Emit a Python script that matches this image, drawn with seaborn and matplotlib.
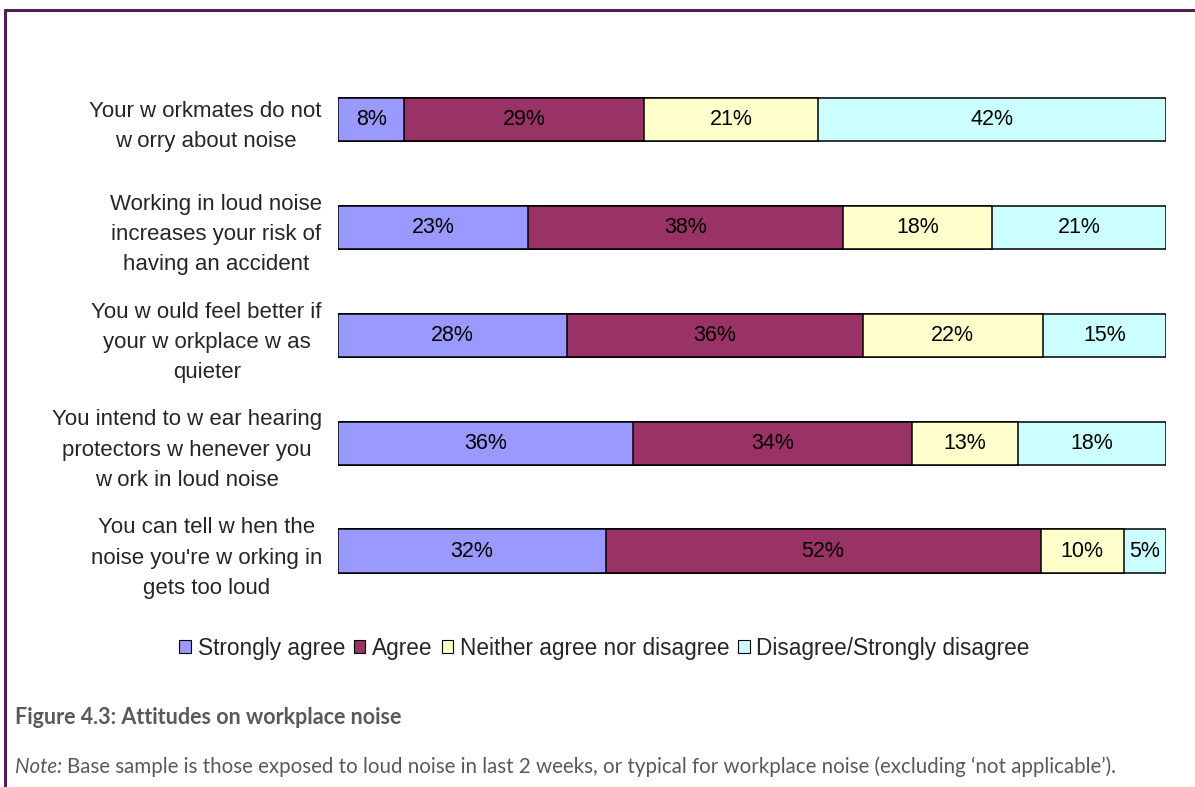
import numpy as np
import pandas as pd
import seaborn as sns
import matplotlib.pyplot as plt
from matplotlib.lines import Line2D
from matplotlib.patches import Patch

statements = [
    "Your w orkmates do not\nw orry about noise",
    "Working in loud noise\nincreases your risk of\nhaving an accident",
    "You w ould feel better if\nyour w orkplace w as\nquieter",
    "You intend to w ear hearing\nprotectors w henever you\nw ork in loud noise",
    "You can tell w hen the\nnoise you're w orking in\ngets too loud",
]
responses = ["Strongly agree", "Agree", "Neither agree nor disagree",
             "Disagree/Strongly disagree"]
strongly_agree = [8, 23, 28, 36, 32]
agree = [29, 38, 36, 34, 52]
neither = [21, 18, 22, 13, 10]
disagree = [42, 21, 15, 18, 5]
colors = ["#9999FF", "#993366", "#FFFFCC", "#CCFFFF"]

vals = np.array([strongly_agree, agree, neither, disagree], dtype=float)
shares = vals / vals.sum(axis=0) * 100  # 100% stacked
cum = shares.cumsum(axis=0)

sns.set_theme(style="white")
plt.rcParams['font.family'] = ['Liberation Sans', 'DejaVu Sans']

fig = plt.figure(figsize=(11.95, 7.87), dpi=100)
ax = fig.add_axes([0.2828, 0.2313, 0.6929, 0.6855])

# draw cumulative totals back to front so the segments stack
for i in range(len(responses) - 1, -1, -1):
    df = pd.DataFrame({"statement": statements, "value": cum[i]})
    sns.barplot(data=df, x="value", y="statement", orient="h", ax=ax,
                color=colors[i], saturation=1, width=0.4,
                edgecolor="black", linewidth=1.1)

for i in range(len(responses)):
    for j in range(len(statements)):
        left = cum[i][j] - shares[i][j]
        ax.text(left + shares[i][j] / 2, j, f"{int(vals[i][j])}%",
                ha="center", va="center", fontsize=15.5, color="black")

ax.set_xlim(0, 100)
ax.set_xlabel("")
ax.set_ylabel("")
ax.set_xticks([])
ax.tick_params(axis="y", length=0, pad=11.5, labelsize=16)
for lab in ax.get_yticklabels():
    lab.set_multialignment("center")
    lab.set_linespacing(1.58)
sns.despine(ax=ax, left=True, bottom=True)

handles = [Patch(facecolor=c, edgecolor="black", linewidth=0.8) for c in colors]
fig.legend(handles, responses, loc="center", bbox_to_anchor=(0.506, 0.1766),
           ncol=4, frameon=False, fontsize=16.3, handlelength=0.5,
           handleheight=0.5, handletextpad=0.3, columnspacing=0.4)

# frame lines of the report page
purple = "#4E1F55"
fig.add_artist(Line2D([4.5 / 1195, 1], [1 - 9.5 / 787, 1 - 9.5 / 787],
                      color=purple, linewidth=2.2, transform=fig.transFigure))
fig.add_artist(Line2D([4.5 / 1195, 4.5 / 1195], [0, 1 - 9.5 / 787],
                      color=purple, linewidth=2.2, transform=fig.transFigure))

cap_font = ["Lato", "DejaVu Sans"]
fig.text(15 / 1195, 1 - 718 / 787, "Figure 4.3: Attitudes on workplace noise",
         ha="left", va="center", fontsize=15.5, fontweight="bold",
         color="#5A5A5A", family=cap_font)
note = fig.text(15 / 1195, 1 - 767 / 787, "Note:", ha="left", va="center",
                fontsize=14.8, style="italic", color="#5A5A5A", family=cap_font)
fig.canvas.draw()
nx = note.get_window_extent().x1 + 5
fig.text(nx / 1195, 1 - 767 / 787,
         "Base sample is those exposed to loud noise in last 2 weeks, or typical "
         "for workplace noise (excluding \u2018not applicable\u2019).",
         ha="left", va="center", fontsize=14.8, color="#5A5A5A", family=cap_font)

fig.savefig("out.png", dpi=100)
